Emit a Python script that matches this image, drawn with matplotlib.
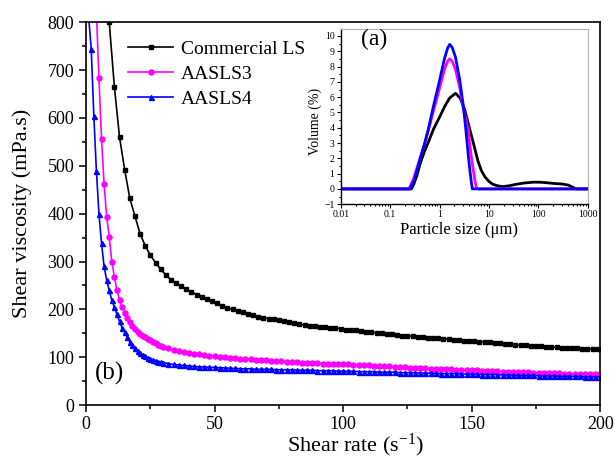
import numpy as np
import matplotlib
matplotlib.use('Agg')
import matplotlib.pyplot as plt
from matplotlib.ticker import MultipleLocator, LogLocator, NullFormatter

plt.rcParams['font.family'] = ['Liberation Serif', 'DejaVu Serif']
plt.rcParams['mathtext.fontset'] = 'custom'
plt.rcParams['mathtext.rm'] = 'Liberation Serif'
plt.rcParams['mathtext.it'] = 'Liberation Serif:italic'

# ---- main plot: shear viscosity vs shear rate ----
rate_ls = list(range(7, 200, 2))
visc_ls = [1000, 800, 665, 560, 492, 432, 395, 358, 333, 313, 298, 284, 272, 262, 255, 248,
           242, 237, 231, 226, 221, 217, 213, 207, 203, 200, 197, 194, 191, 188, 185, 183,
           181, 179, 177, 175, 173, 171, 169, 167, 166, 165, 164, 163, 162, 161, 160, 158,
           157, 156, 155, 153, 152, 151, 150, 149, 148, 146, 145, 145, 144, 143, 142, 141,
           140, 140, 139, 138, 137, 136, 135, 134, 134, 133, 132, 131, 130, 129, 128, 127,
           126, 125, 125, 124, 123, 123, 122, 121, 121, 120, 120, 119, 119, 118, 118, 117, 117]

rate_s3 = list(range(3, 31)) + list(range(32, 201, 2))
visc_s3 = [1000, 820, 683, 556, 462, 393, 352, 300, 268, 240, 220, 205, 192, 182, 173, 166,
           159, 153, 148, 145, 142, 139, 136, 132, 129, 126, 124, 122,
           119, 116, 113, 111, 109, 107, 106, 104, 103, 102, 101, 100, 99, 98, 97, 96,
           96, 95, 94, 94, 93, 93, 92, 91, 91, 90, 89, 89, 88, 88, 87, 87,
           86, 86, 85, 85, 84, 84, 83, 83, 82, 82, 81, 81, 80, 79, 79, 78,
           78, 77, 77, 76, 76, 75, 75, 75, 74, 74, 73, 73, 73, 72, 72, 71,
           71, 70, 70, 70, 69, 69, 69, 68, 68, 68, 67, 67, 67, 66, 66, 66, 66, 65, 65, 65, 65]

rate_s4 = list(range(1, 31)) + list(range(32, 201, 2))
visc_s4 = [810, 744, 605, 490, 400, 338, 290, 261, 240, 219, 205, 190, 175, 162, 152, 143,
           132, 125, 119, 114, 109, 105, 102, 99, 97, 95, 93, 91, 90, 89,
           87, 85, 84, 83, 82, 81, 80, 80, 79, 79, 78, 78, 77, 77, 76, 76,
           76, 75, 75, 75, 75, 74, 74, 74, 74, 73, 73, 73, 73, 72, 72, 72,
           72, 71, 71, 71, 71, 70, 70, 70, 70, 69, 69, 69, 69, 68, 68, 68,
           68, 67, 67, 67, 67, 66, 66, 66, 66, 65, 65, 65, 65, 64, 64, 64,
           64, 63, 63, 63, 62, 62, 62, 62, 61, 61, 61, 61, 60, 60, 60, 60, 60, 59, 59, 59, 59]

# ---- inset: particle size distribution ----
size_ls = [0.01, 0.2, 0.27, 0.3, 0.35, 0.4, 0.5, 0.6, 0.75, 1.0, 1.27, 1.6, 2.1, 2.6, 3.2,
           4.0, 5.0, 6.0, 7.0, 8.2, 10, 12, 15, 19, 25, 35, 50, 77, 105, 150, 200, 300,
           400, 500, 580, 1000]
vol_ls = [0, 0, 0, 0.3, 0.9, 1.6, 2.5, 3.1, 3.9, 4.7, 5.4, 5.95, 6.25, 5.95, 5.2,
          4.0, 2.8, 1.8, 1.2, 0.8, 0.48, 0.3, 0.2, 0.15, 0.2, 0.3, 0.38, 0.44, 0.44, 0.4, 0.36, 0.32,
          0.25, 0.1, 0, 0]

size_s3 = [0.01, 0.24, 0.3, 0.4, 0.5, 0.59, 0.75, 1.0, 1.25, 1.45, 1.6, 1.8, 2.1, 2.56, 3.0,
           3.78, 4.3, 4.8, 5.2, 5.6, 6.0, 1000]
vol_s3 = [0, 0, 0.7, 2.0, 2.95, 3.8, 5.1, 6.6, 7.8, 8.35, 8.5, 8.35, 7.8, 6.6, 5.3,
          3.86, 2.3, 1.24, 0.5, 0.05, 0, 0]

size_s4 = [0.01, 0.25, 0.3, 0.4, 0.5, 0.59, 0.75, 1.0, 1.25, 1.45, 1.6, 1.8, 2.1, 2.56, 3.0,
           3.4, 3.8, 4.1, 4.4, 4.6, 1000]
vol_s4 = [0, 0, 0.5, 1.9, 3.0, 3.9, 5.4, 7.1, 8.5, 9.2, 9.45, 9.25, 8.6, 7.1, 5.5,
          3.86, 2.2, 1.2, 0.4, 0, 0]

fig = plt.figure(figsize=(6.15, 4.62), dpi=100)
ax = fig.add_axes([0.140, 0.123, 0.836, 0.829])

ax.plot(rate_ls, visc_ls, color='black', lw=1.2, marker='s', ms=3.4, label='Commercial LS')
ax.plot(rate_s3, visc_s3, color='#ff00ff', lw=1.2, marker='o', ms=3.6, label='AASLS3')
ax.plot(rate_s4, visc_s4, color='#0000ff', lw=1.2, marker='^', ms=3.6, label='AASLS4')

ax.set_xlim(0, 200)
ax.set_ylim(0, 800)
ax.xaxis.set_major_locator(MultipleLocator(50))
ax.xaxis.set_minor_locator(MultipleLocator(25))
ax.yaxis.set_major_locator(MultipleLocator(100))
ax.yaxis.set_minor_locator(MultipleLocator(50))
ax.tick_params(which='both', direction='out', top=False, right=False, labelsize=13, width=1.1)
ax.tick_params(which='major', length=5)
ax.tick_params(which='minor', length=3)
ax.tick_params(axis='x', pad=2.5)
for s in ax.spines.values():
    s.set_linewidth(1.2)

ax.set_xlabel('Shear rate (s$^{-1}$)', fontsize=16)
ax.set_ylabel('Shear viscosity (mPa.s)', fontsize=16)
ax.xaxis.set_label_coords(0.523, -0.07)
ax.yaxis.set_label_coords(-0.105, 0.5)
ax.text(0.045, 0.084, '(b)', transform=ax.transAxes, fontsize=18, ha='center', va='center')

ax.legend(loc='upper left', bbox_to_anchor=(0.082, 0.952), frameon=False, fontsize=14,
          handlelength=2.3, handletextpad=0.4, labelspacing=0.38, borderpad=0, borderaxespad=0)

# inset
ins = fig.add_axes([0.554, 0.558, 0.402, 0.379])
ins.plot(size_ls, vol_ls, color='black', lw=2)
ins.plot(size_s3, vol_s3, color='#ff00ff', lw=2)
ins.plot(size_s4, vol_s4, color='#0000ff', lw=2)
ins.set_xscale('log')
ins.set_xlim(0.01, 1000)
ins.set_ylim(-1, 10.45)
ins.set_xticks([0.01, 0.1, 1, 10, 100, 1000])
ins.set_xticklabels(['0.01', '0.1', '1', '10', '100', '1000'])
ins.xaxis.set_minor_locator(LogLocator(base=10, subs=(2, 3, 4, 5, 6, 7, 8, 9)))
ins.xaxis.set_minor_formatter(NullFormatter())
ins.yaxis.set_major_locator(MultipleLocator(1))
ins.yaxis.set_minor_locator(MultipleLocator(0.5))
ins.tick_params(which='both', direction='out', top=False, right=False, labelsize=7, pad=1.5, width=0.8)
ins.tick_params(which='major', length=3)
ins.tick_params(which='minor', length=1.5)
ins.spines['top'].set_color('#b0b0b0')
ins.spines['right'].set_color('#b0b0b0')
ins.spines['left'].set_linewidth(1)
ins.spines['bottom'].set_linewidth(1)
ins.set_xlabel('Particle size (\u03bcm)', fontsize=12)
ins.set_ylabel('Volume (%)', fontsize=10)
ins.xaxis.set_label_coords(0.478, -0.10)
ins.yaxis.set_label_coords(-0.077, 0.47)
ins.text(0.134, 0.943, '(a)', transform=ins.transAxes, fontsize=17, ha='center', va='center')

fig.savefig('out.png', dpi=100)
